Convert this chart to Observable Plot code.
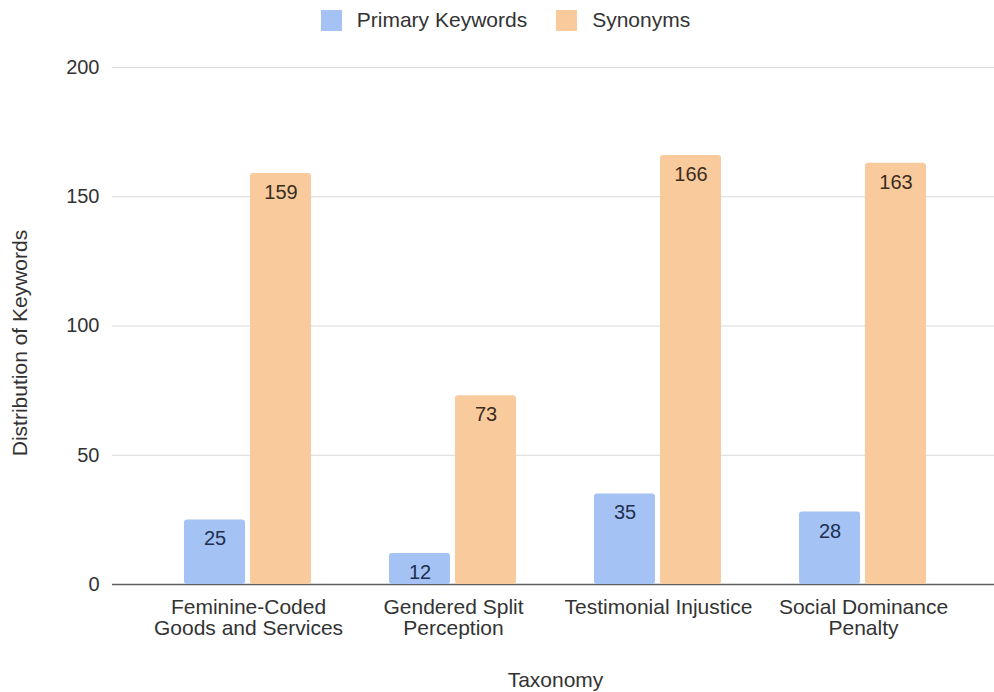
<!DOCTYPE html>
<html>
<head>
<meta charset="utf-8">
<script src="https://cdn.jsdelivr.net/npm/d3@7"></script>
<script src="https://cdn.jsdelivr.net/npm/@observablehq/plot@0.6"></script>
<style>
  body { margin: 0; background: #fff; font-family: "Liberation Sans", Arial, sans-serif; }
  #legend {
    height: 40px; display: flex; align-items: center; justify-content: center;
    padding-left: 17px; box-sizing: border-box; font-size: 21px; color: #333;
  }
  #legend .item { display: flex; align-items: center; margin: 0 14.5px; }
  #legend .swatch { width: 21px; height: 21px; margin-right: 15px; }
  #chart { position: relative; width: 994px; height: 652px; }
  #chart svg { display: block; position: absolute; left: 0; top: 0; }
</style>
</head>
<body>
<div id="legend"></div>
<div id="chart"></div>
<script>
// Taxonomy categories and their wrapped axis labels
const categories = [
  "Feminine-Coded Goods and Services",
  "Gendered Split Perception",
  "Testimonial Injustice",
  "Social Dominance Penalty"
];
const tickLabels = [
  "Feminine-Coded\nGoods and Services",
  "Gendered Split\nPerception",
  "Testimonial Injustice",
  "Social Dominance\nPenalty"
];

// Series
const seriesNames = ["Primary Keywords", "Synonyms"];
const primaryKeywords = [25, 12, 35, 28];
const synonyms = [159, 73, 166, 163];

// Y axis ticks
const yTicks = [0, 50, 100, 150, 200];

const barColors = ["#a4c2f4", "#f9cb9c"];
const labelColors = ["#1e2f4f", "#3a2c1e"];

const data = categories.flatMap((c, i) => [
  {category: c, series: seriesNames[0], value: primaryKeywords[i]},
  {category: c, series: seriesNames[1], value: synonyms[i]}
]);

// Legend
const legend = d3.select("#legend");
seriesNames.forEach((name, i) => {
  const item = legend.append("div").attr("class", "item");
  item.append("div").attr("class", "swatch").style("background", barColors[i]);
  item.append("span").text(name);
});

const font = "'Liberation Sans', Arial, sans-serif";

// Shared frame for both layers
const frame = {
  width: 994,
  height: 652,
  marginTop: 27,
  marginLeft: 112,
  marginRight: 0,
  marginBottom: 108,
  style: {fontFamily: font, fontSize: "20px", color: "#333", background: "transparent"},
  y: {domain: [0, 200], axis: null}
};

// Back layer: gridlines spanning the whole frame, y axis, axis titles
const back = Plot.plot({
  ...frame,
  marks: [
    Plot.ruleY(yTicks.filter(t => t > 0), {stroke: "#d9d9d9", strokeWidth: 1.2}),
    Plot.axisY({ticks: yTicks, tickSize: 0, tickPadding: 13, label: null, fontSize: 20}),
    Plot.ruleY([0], {stroke: "#5f5f5f", strokeWidth: 1.6}),
    Plot.text(["Distribution of Keywords"], {
      frameAnchor: "left", textAnchor: "middle", lineAnchor: "middle",
      rotate: -90, dx: -92, dy: 17, fontSize: 21, fill: "#333"
    }),
    Plot.text(["Taxonomy"], {
      frameAnchor: "bottom", lineAnchor: "middle", dy: 96, dx: 2, fontSize: 21, fill: "#333"
    })
  ]
});

// Front layer: grouped bars faceted by taxonomy category
const front = Plot.plot({
  ...frame,
  fx: {domain: categories, paddingInner: 0.376, paddingOuter: 0.339, align: 0.52, axis: null},
  x: {domain: seriesNames, paddingInner: 0.07, paddingOuter: 0, axis: null},
  color: {domain: seriesNames, range: barColors},
  marks: [
    Plot.axisFx({
      anchor: "bottom", tickSize: 0, tickPadding: 14, label: null, fontSize: 21, lineHeight: 1.02,
      tickFormat: d => tickLabels[categories.indexOf(d)]
    }),
    Plot.barY(data, {fx: "category", x: "series", y: "value", fill: "series", rx: 3}),
    Plot.text(data, {
      fx: "category", x: "series", y: "value", dy: 19,
      text: d => String(d.value), fontSize: 20,
      fill: d => labelColors[seriesNames.indexOf(d.series)]
    })
  ]
});

document.getElementById("chart").append(back, front);
</script>
</body>
</html>
